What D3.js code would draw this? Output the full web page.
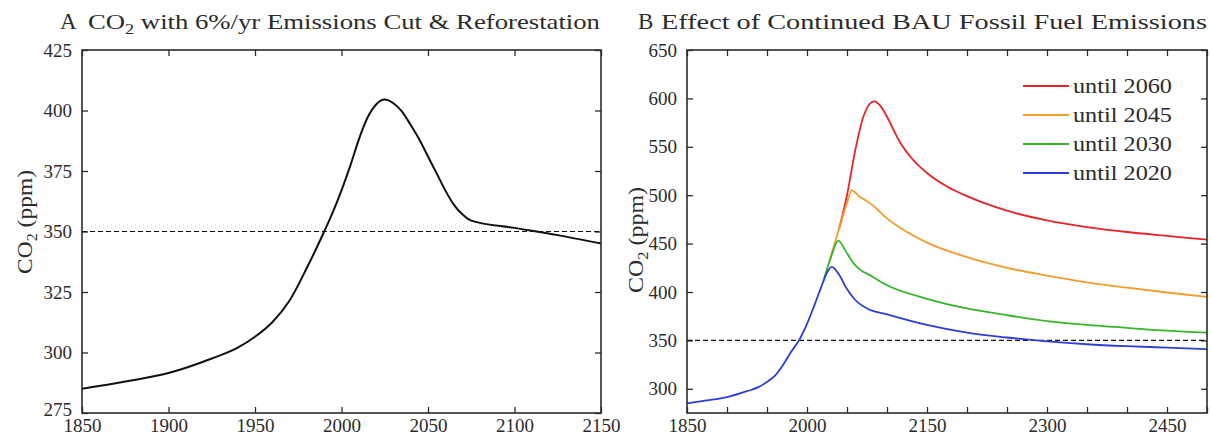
<!DOCTYPE html>
<html lang="en">
<head>
<meta charset="utf-8" />
<title>CO2 scenarios</title>
<script src="https://d3js.org/d3.v7.min.js"></script>
<style>
  body { margin: 0; background: #fff; }
  svg { display: block; font-family: "Liberation Serif", "Times New Roman", serif; }
</style>
</head>
<body>
<svg id="chart" width="1212" height="436"></svg>
<script>
// ---- data ----
// panel A: CO2 with 6%/yr emissions cut & reforestation
var yearsA  = [1850, 1875, 1900, 1925, 1940, 1950, 1960, 1970, 1980, 1990, 1995, 2000, 2005, 2010, 2015, 2020, 2025, 2030, 2035, 2040, 2045, 2050, 2055, 2060, 2065, 2070, 2075, 2100, 2125, 2150];
var co2A    = [285, 288, 291.5, 297.5, 302, 306.5, 312.5, 321.5, 335, 350, 358, 367, 377, 388, 397, 402.5, 404.5, 403, 399.5, 394, 388, 381, 374, 367, 361, 357, 354.5, 351.5, 348.5, 345];

// panel B: BAU emissions continued until ...
var yearsB2020 = [1850, 1875, 1900, 1925, 1940, 1950, 1960, 1970, 1980, 1990, 2000, 2010, 2020, 2025, 2031, 2040, 2050, 2060, 2075, 2100, 2150, 2200, 2250, 2300, 2350, 2400, 2450, 2500];
var co2B2020   = [285, 288, 291.5, 297.5, 302, 307, 313.5, 324.5, 338, 350, 367, 388, 410, 420, 426, 418, 403, 392, 383, 377, 366, 358, 353, 349, 346, 344, 342.5, 341];
var yearsB2030 = [2020, 2030, 2039, 2050, 2060, 2070, 2075, 2100, 2150, 2200, 2250, 2300, 2350, 2400, 2450, 2500];
var co2B2030   = [410, 436, 453, 440, 428, 421, 419, 407, 393, 383, 376, 370, 366, 363, 360, 358];
var yearsB2045 = [2028, 2040, 2050, 2056, 2065, 2080, 2087, 2100, 2125, 2150, 2200, 2250, 2300, 2350, 2400, 2450, 2500];
var co2B2045   = [432, 465, 492, 505, 499, 491, 486, 476, 462, 451, 436, 425, 417, 410, 404.5, 399.5, 395];
var yearsB2060 = [2040, 2050, 2060, 2070, 2078, 2084, 2092, 2100, 2116, 2130, 2150, 2175, 2200, 2250, 2300, 2350, 2400, 2450, 2500];
var co2B2060   = [465, 500, 545, 580, 594, 597, 592, 581, 555, 539, 523, 509, 499, 484, 474, 467, 462, 458, 454];

var legendLabels = ["until 2060", "until 2045", "until 2030", "until 2020"];
var seriesColors = ["#e8232a", "#f39c2c", "#35b62a", "#2b3fd6"];
var targetCO2 = 350;

var svg = d3.select("#chart");
var ink = "#2b2b2b";

// the reference face is wider than Times, so stretch runs to the measured widths
function fitWidth(sel, w) {
    sel.attr("textLength", w).attr("lengthAdjust", "spacingAndGlyphs");
}

function co2Label(g, x, y, w) {
    var t = g.append("text")
        .attr("transform", "translate(" + x + "," + y + ") rotate(-90)")
        .attr("text-anchor", "middle")
        .attr("font-size", 22)
        .attr("fill", ink);
    t.append("tspan").text("CO");
    t.append("tspan").attr("font-size", 15).attr("dy", 5).text("2");
    t.append("tspan").attr("dy", -5).text(" (ppm)");
    fitWidth(t, w);
}

function drawPanel(cfg) {
    var g = svg.append("g");
    var x = d3.scaleLinear().domain(cfg.xDomain).range([cfg.left, cfg.right]);
    var y = d3.scaleLinear().domain(cfg.yDomain).range([cfg.bottom, cfg.top]);

    // inward ticks on all four sides
    var bottomAxis = d3.axisBottom(x).tickValues(cfg.xTicks).tickSize(-6).tickPadding(13)
        .tickFormat(function (d) { return cfg.xLabels.indexOf(d) >= 0 ? d : ""; });
    g.append("g").attr("transform", "translate(0," + cfg.bottom + ")").call(bottomAxis);
    g.append("g").attr("transform", "translate(0," + cfg.top + ")")
        .call(d3.axisTop(x).tickValues(cfg.xTicks).tickSize(-6).tickFormat(""));
    var leftAxis = g.append("g").attr("transform", "translate(" + cfg.left + ",0)")
        .call(d3.axisLeft(y).tickValues(cfg.yTicks).tickSize(-6).tickPadding(10));
    g.append("g").attr("transform", "translate(" + cfg.right + ",0)")
        .call(d3.axisRight(y).tickValues(cfg.yTicks).tickSize(-6).tickFormat(""));

    g.selectAll(".domain").remove();
    g.selectAll(".tick line").attr("stroke", ink).attr("stroke-width", 1.3);
    g.selectAll(".tick text")
        .attr("font-size", 19)
        .attr("font-family", "Liberation Serif")
        .attr("fill", ink)
        .attr("dy", "0.32em");
    // lowest y label sits a little high so it clears the first year label
    leftAxis.selectAll(".tick text")
        .filter(function (d) { return d === cfg.yDomain[0]; })
        .attr("dy", "0.12em");

    // 350 ppm reference
    g.append("line")
        .attr("x1", cfg.left).attr("x2", cfg.right)
        .attr("y1", y(targetCO2)).attr("y2", y(targetCO2))
        .attr("stroke", "#111").attr("stroke-width", 1.1)
        .attr("stroke-dasharray", "5,3");

    var line = d3.line()
        .x(function (d) { return x(d[0]); })
        .y(function (d) { return y(d[1]); })
        .curve(d3.curveMonotoneX);

    cfg.series.forEach(function (s) {
        g.append("path")
            .datum(d3.zip(s.years, s.values))
            .attr("fill", "none")
            .attr("stroke", s.color)
            .attr("stroke-width", s.width)
            .attr("d", line);
    });

    g.append("rect")
        .attr("x", cfg.left).attr("y", cfg.top)
        .attr("width", cfg.right - cfg.left).attr("height", cfg.bottom - cfg.top)
        .attr("fill", "none").attr("stroke", ink).attr("stroke-width", 1.6);

    // panel letter + title
    g.append("text").attr("x", cfg.letterX).attr("y", 29)
        .attr("font-size", 23).attr("fill", ink).text(cfg.letter);
    var title = g.append("text").attr("x", cfg.titleX).attr("y", 29)
        .attr("font-size", 22).attr("fill", ink);
    cfg.title.forEach(function (p) {
        var ts = title.append("tspan").text(p.t);
        if (p.sub) ts.attr("font-size", 15).attr("dy", 5);
        if (p.up) ts.attr("dy", -5);
    });
    fitWidth(title, cfg.titleW);

    co2Label(g, cfg.yLabelX, cfg.yLabelY, cfg.yLabelW);
    return { g: g, x: x, y: y };
}

drawPanel({
    left: 82, right: 601, top: 50, bottom: 413,
    xDomain: [1850, 2150], yDomain: [275, 425],
    xTicks: d3.range(1850, 2151, 50), xLabels: d3.range(1850, 2151, 50),
    yTicks: d3.range(275, 426, 25),
    letter: "A", letterX: 60, titleX: 88, titleW: 512,
    title: [{ t: "CO" }, { t: "2", sub: true }, { t: " with 6%/yr Emissions Cut & Reforestation", up: true }],
    yLabelX: 32, yLabelY: 222, yLabelW: 104,
    series: [{ years: yearsA, values: co2A, color: "#111", width: 2 }]
});

var panelB = drawPanel({
    left: 687, right: 1207, top: 50, bottom: 413,
    xDomain: [1850, 2500], yDomain: [275, 650],
    xTicks: d3.range(1850, 2501, 50), xLabels: d3.range(1850, 2451, 150),
    yTicks: d3.range(300, 651, 50),
    letter: "B", letterX: 638, titleX: 661, titleW: 546,
    title: [{ t: "Effect of Continued BAU Fossil Fuel Emissions" }],
    yLabelX: 643, yLabelY: 240, yLabelW: 106,
    series: [
        { years: yearsB2060, values: co2B2060, color: seriesColors[0], width: 1.8 },
        { years: yearsB2045, values: co2B2045, color: seriesColors[1], width: 1.8 },
        { years: yearsB2030, values: co2B2030, color: seriesColors[2], width: 1.8 },
        { years: yearsB2020, values: co2B2020, color: seriesColors[3], width: 1.8 }
    ]
});

// legend
var legend = panelB.g.append("g").attr("transform", "translate(1023,86)");
legendLabels.forEach(function (lab, i) {
    var row = legend.append("g").attr("transform", "translate(0," + i * 29 + ")");
    row.append("line").attr("x1", 0).attr("x2", 46).attr("y1", 0).attr("y2", 0)
        .attr("stroke", seriesColors[i]).attr("stroke-width", 2);
    var t = row.append("text").attr("x", 50).attr("y", 0).attr("dy", "0.32em")
        .attr("font-size", 22).attr("fill", ink).text(lab);
    fitWidth(t, 99);
});
</script>
</body>
</html>
